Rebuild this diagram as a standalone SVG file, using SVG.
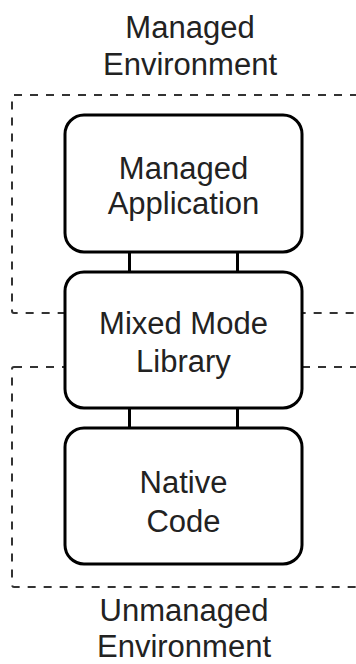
<svg xmlns="http://www.w3.org/2000/svg" width="356" height="664" viewBox="0 0 356 664">
  <style>
    .zone { fill: none; stroke: #333; stroke-width: 2; stroke-dasharray: 8 8; }
    .box { fill: #fff; stroke: #000; stroke-width: 3; }
    .link { stroke: #000; stroke-width: 3; fill: none; }
    text { font-family: "Liberation Sans", Arial, sans-serif; font-size: 31px; fill: #222; text-anchor: middle; }
  </style>
  <rect width="356" height="664" fill="#fff"/>

  <!-- environment boundaries (right edges run off the canvas) -->
  <g id="managed-env">
    <rect class="zone" x="12" y="95" width="400" height="218" rx="2"/>
    <text x="190" y="38">Managed</text>
    <text x="190" y="75">Environment</text>
  </g>
  <g id="unmanaged-env">
    <rect class="zone" x="12" y="367" width="400" height="220" rx="2"/>
    <text x="184" y="621">Unmanaged</text>
    <text x="184" y="657">Environment</text>
  </g>

  <!-- connectors between stacked layers -->
  <g id="connectors">
    <line class="link" x1="129.5" y1="252" x2="129.5" y2="272"/>
    <line class="link" x1="237.5" y1="252" x2="237.5" y2="272"/>
    <line class="link" x1="129.5" y1="408" x2="129.5" y2="428"/>
    <line class="link" x1="237.5" y1="408" x2="237.5" y2="428"/>
  </g>

  <g id="managed-app">
    <rect class="box" x="65" y="115" width="237" height="137" rx="19"/>
    <text x="183.5" y="179">Managed</text>
    <text x="183.5" y="214">Application</text>
  </g>

  <g id="mixed-mode">
    <rect class="box" x="65" y="272" width="237" height="136" rx="19"/>
    <text x="183.5" y="334">Mixed Mode</text>
    <text x="183.5" y="371.5">Library</text>
  </g>

  <g id="native-code">
    <rect class="box" x="65" y="428" width="237" height="136" rx="19"/>
    <text x="183.5" y="493">Native</text>
    <text x="183.5" y="531.5">Code</text>
  </g>
</svg>
